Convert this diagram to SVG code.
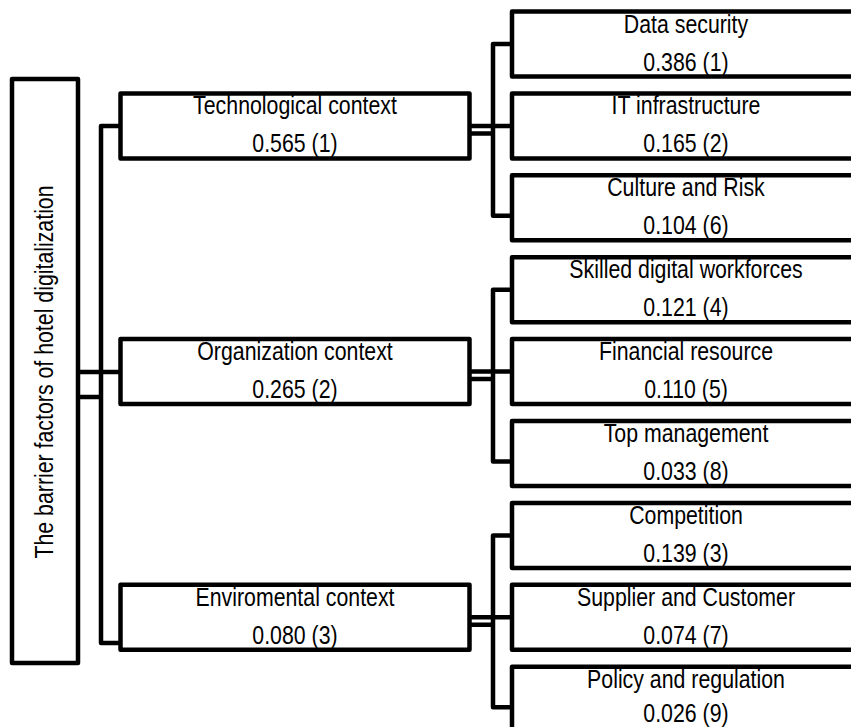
<svg xmlns="http://www.w3.org/2000/svg" width="851" height="727" viewBox="0 0 851 727">
<style>
.box{fill:#fff;stroke:#000;stroke-width:4.5;stroke-linejoin:round}
.con{fill:none;stroke:#000;stroke-width:4.5;stroke-linejoin:round}
text{font-family:"Liberation Sans",Arial,sans-serif;font-size:26px;fill:#000;text-anchor:middle}
</style>
<rect width="851" height="727" fill="#fff"/>
<g id="connectors">
<path class="con" d="M120.5,125.9 H101 V643 H120.5"/>
<path class="con" d="M78,372 H120.5 M78,397 H101"/>
<path class="con" d="M512,44 H493 V215.8 H512 M469.5,125.9 H512 M469.5,133.4 H493"/>
<path class="con" d="M512,289.7 H493 V461.5 H512 M469.5,371.6 H512 M469.5,379.1 H493"/>
<path class="con" d="M512,535.4 H493 V707.2 H512 M469.5,617.3 H512 M469.5,624.8 H493"/>
</g>
<g id="root">
<rect class="box" x="12" y="79" width="66" height="584"/>
<text transform="translate(53,372) rotate(-90) scale(0.82,1)">The barrier factors of hotel digitalization</text>
</g>
<g id="tech">
<rect class="box" x="120.5" y="93.4" width="349" height="65"/>
<text transform="translate(295,114.4) scale(0.82,1)">Technological context</text>
<text transform="translate(295,152.4) scale(0.82,1)">0.565 (1)</text>
</g>
<g id="org">
<rect class="box" x="120.5" y="339.1" width="349" height="65"/>
<text transform="translate(295,360.1) scale(0.82,1)">Organization context</text>
<text transform="translate(295,398.1) scale(0.82,1)">0.265 (2)</text>
</g>
<g id="env">
<rect class="box" x="120.5" y="584.8" width="349" height="65"/>
<text transform="translate(295,605.8) scale(0.82,1)">Enviromental context</text>
<text transform="translate(295,643.8) scale(0.82,1)">0.080 (3)</text>
</g>
<g id="data-security">
<rect class="box" x="512" y="11.5" width="360" height="65"/>
<text transform="translate(686,32.5) scale(0.82,1)">Data security</text>
<text transform="translate(686,70.5) scale(0.82,1)">0.386 (1)</text>
</g>
<g id="it-infrastructure">
<rect class="box" x="512" y="93.4" width="360" height="65"/>
<text transform="translate(686,114.4) scale(0.82,1)">IT infrastructure</text>
<text transform="translate(686,152.4) scale(0.82,1)">0.165 (2)</text>
</g>
<g id="culture-risk">
<rect class="box" x="512" y="175.3" width="360" height="65"/>
<text transform="translate(686,196.3) scale(0.82,1)">Culture and Risk</text>
<text transform="translate(686,234.3) scale(0.82,1)">0.104 (6)</text>
</g>
<g id="skilled-workforces">
<rect class="box" x="512" y="257.2" width="360" height="65"/>
<text transform="translate(686,278.2) scale(0.82,1)">Skilled digital workforces</text>
<text transform="translate(686,316.2) scale(0.82,1)">0.121 (4)</text>
</g>
<g id="financial-resource">
<rect class="box" x="512" y="339.1" width="360" height="65"/>
<text transform="translate(686,360.1) scale(0.82,1)">Financial resource</text>
<text transform="translate(686,398.1) scale(0.82,1)">0.110 (5)</text>
</g>
<g id="top-management">
<rect class="box" x="512" y="421" width="360" height="65"/>
<text transform="translate(686,442) scale(0.82,1)">Top management</text>
<text transform="translate(686,480) scale(0.82,1)">0.033 (8)</text>
</g>
<g id="competition">
<rect class="box" x="512" y="502.9" width="360" height="65"/>
<text transform="translate(686,523.9) scale(0.82,1)">Competition</text>
<text transform="translate(686,561.9) scale(0.82,1)">0.139 (3)</text>
</g>
<g id="supplier-customer">
<rect class="box" x="512" y="584.8" width="360" height="65"/>
<text transform="translate(686,605.8) scale(0.82,1)">Supplier and Customer</text>
<text transform="translate(686,643.8) scale(0.82,1)">0.074 (7)</text>
</g>
<g id="policy-regulation">
<rect class="box" x="512" y="666.7" width="360" height="65"/>
<text transform="translate(686,687.7) scale(0.82,1)">Policy and regulation</text>
<text transform="translate(686,721.5) scale(0.82,1)">0.026 (9)</text>
</g>
</svg>
